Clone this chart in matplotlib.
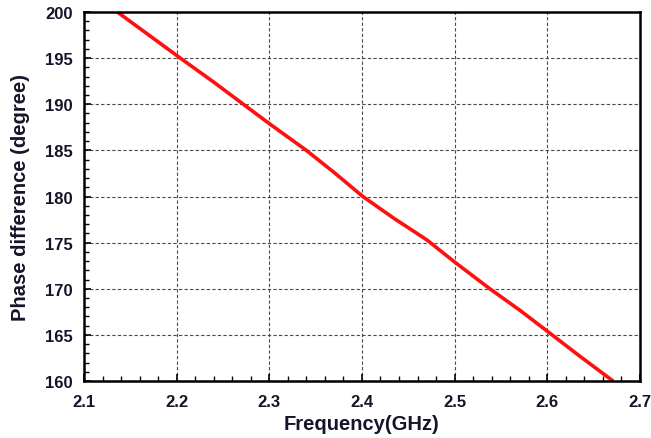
import matplotlib
matplotlib.use("Agg")
import matplotlib.pyplot as plt
from matplotlib.ticker import MultipleLocator

# Measured phase difference vs frequency
freq_ghz = [2.136, 2.170, 2.204, 2.240, 2.272, 2.300, 2.340, 2.370, 2.401,
            2.435, 2.470, 2.500, 2.538, 2.570, 2.600, 2.635, 2.671]
phase_deg = [200.0, 197.5, 195.0, 192.4, 190.0, 187.9, 185.0, 182.6, 180.0,
             177.6, 175.3, 172.9, 170.0, 167.7, 165.4, 162.7, 160.0]

x_ticks = [2.1, 2.2, 2.3, 2.4, 2.5, 2.6, 2.7]
y_ticks = [160, 165, 170, 175, 180, 185, 190, 195, 200]

plt.rcParams['font.family'] = ['Liberation Sans', 'DejaVu Sans']
text_color = '#14142a'

fig = plt.figure(figsize=(6.51, 4.39), dpi=100)
ax = fig.add_axes([0.129, 0.1298, 0.854, 0.8406])

ax.plot(freq_ghz, phase_deg, color='#ff1010', linewidth=2.6, solid_capstyle='butt')

ax.set_xlim(2.1, 2.7)
ax.set_ylim(160, 200)
ax.set_xticks(x_ticks)
ax.set_yticks(y_ticks)
ax.set_xticklabels([f"{v:.1f}" for v in x_ticks])
ax.set_yticklabels([str(v) for v in y_ticks])
ax.xaxis.set_minor_locator(MultipleLocator(0.02))
ax.yaxis.set_minor_locator(MultipleLocator(1))

ax.grid(True, which='major', color='#4a4a4a', linestyle=(0, (3, 2)), linewidth=0.8)
ax.tick_params(which='both', direction='in', top=False, right=False,
               colors='black', labelcolor=text_color)
ax.tick_params(which='major', length=5, width=1.2, labelsize=12)
ax.tick_params(axis='x', which='major', pad=9)
ax.tick_params(axis='y', which='major', pad=8)
ax.tick_params(which='minor', length=3.5, width=1.0)
for lbl in ax.get_xticklabels() + ax.get_yticklabels():
    lbl.set_fontweight('bold')
for sp in ax.spines.values():
    sp.set_linewidth(1.8)
    sp.set_color('black')

ax.set_xlabel('Frequency(GHz)', fontsize=14.5, fontweight='bold', color=text_color)
ax.set_ylabel('Phase difference (degree)', fontsize=14.5, fontweight='bold', color=text_color)
ax.xaxis.set_label_coords(0.5, -0.09)
ax.yaxis.set_label_coords(-0.097, 0.5)

fig.savefig('out.png', dpi=100)
